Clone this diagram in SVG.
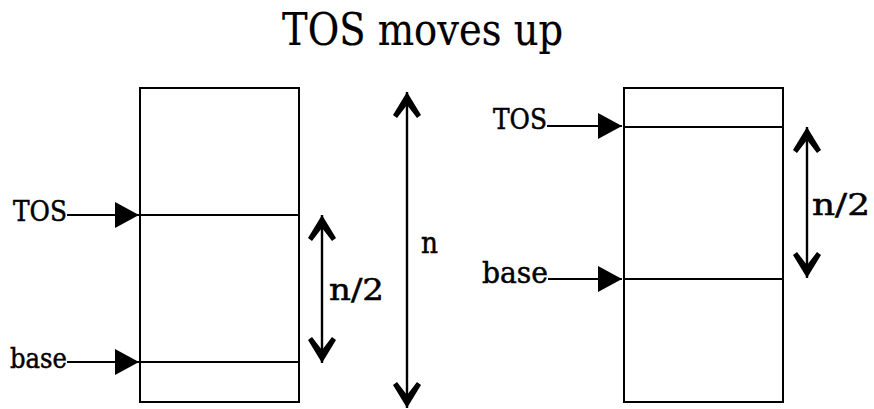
<svg xmlns="http://www.w3.org/2000/svg" width="874" height="409" viewBox="0 0 874 409">
  <style>
    .box { fill: #fff; stroke: #000; stroke-width: 2; }
    .div { stroke: #000; stroke-width: 2; }
    .lbl { font-family: "DejaVu Serif", "Liberation Serif", serif; fill: #000; stroke: #000; stroke-width: 0.5; }
    .ttl { font-family: "DejaVu Serif", "Liberation Serif", serif; fill: #000; stroke: #000; stroke-width: 0.2; }
    .ptr { stroke: #000; stroke-width: 2; fill: none; marker-end: url(#tri); }
    .dim { stroke: #000; stroke-width: 2.4; fill: none; marker-start: url(#barb); marker-end: url(#barb); }
  </style>
  <defs>
    <!-- solid triangular pointer head -->
    <marker id="tri" viewBox="0 0 24 26" refX="24" refY="13" markerWidth="24" markerHeight="26" markerUnits="userSpaceOnUse" orient="auto">
      <path d="M0,0 L24,13 L0,26 Z" fill="#000"/>
    </marker>
    <!-- barbed head for dimension arrows -->
    <marker id="barb" viewBox="0 0 26 28" refX="26" refY="14" markerWidth="26" markerHeight="28" markerUnits="userSpaceOnUse" orient="auto-start-reverse">
      <path d="M26,14 L3,0 L0,4 L13,14 L0,24 L3,28 Z" fill="#000"/>
    </marker>
  </defs>

  <rect width="874" height="409" fill="#fff"/>

  <g id="title">
    <text class="ttl" x="282" y="45" font-size="45" textLength="281" lengthAdjust="spacingAndGlyphs">TOS moves up</text>
  </g>

  <!-- stack before the move -->
  <g id="stack-before">
    <rect class="box" x="140" y="88" width="159" height="314"/>
    <line class="div" x1="140" y1="215" x2="299" y2="215"/>
    <line class="div" x1="140" y1="362" x2="299" y2="362"/>
  </g>

  <!-- stack after the move -->
  <g id="stack-after">
    <rect class="box" x="624" y="88" width="159" height="314"/>
    <line class="div" x1="624" y1="127" x2="783" y2="127"/>
    <line class="div" x1="624" y1="279" x2="783" y2="279"/>
  </g>

  <g id="label-tos-before">
    <text class="lbl" x="13" y="221" font-size="27" textLength="54" lengthAdjust="spacingAndGlyphs">TOS</text>
  </g>
  <g id="label-base-before">
    <text class="lbl" x="10" y="368" font-size="28" textLength="57" lengthAdjust="spacingAndGlyphs">base</text>
  </g>
  <g id="label-tos-after">
    <text class="lbl" x="493" y="129" font-size="27" textLength="54" lengthAdjust="spacingAndGlyphs">TOS</text>
  </g>
  <g id="label-base-after">
    <text class="lbl" x="482" y="283" font-size="29" textLength="66" lengthAdjust="spacingAndGlyphs">base</text>
  </g>
  <g id="label-half-before">
    <text class="lbl" x="329" y="300" font-size="29" textLength="55" lengthAdjust="spacingAndGlyphs">n/2</text>
  </g>
  <g id="label-n">
    <text class="lbl" x="421" y="253" font-size="30" textLength="17" lengthAdjust="spacingAndGlyphs">n</text>
  </g>
  <g id="label-half-after">
    <text class="lbl" x="812" y="215" font-size="29" textLength="58" lengthAdjust="spacingAndGlyphs">n/2</text>
  </g>

  <g id="connectors">
    <!-- pointers into the stacks -->
    <line class="ptr" x1="67" y1="215" x2="139" y2="215"/>
    <line class="ptr" x1="67" y1="362" x2="139" y2="362"/>
    <line class="ptr" x1="547" y1="126" x2="622" y2="126"/>
    <line class="ptr" x1="548" y1="279" x2="622" y2="279"/>
    <!-- extents -->
    <line class="dim" x1="322" y1="215" x2="322" y2="363"/>
    <line class="dim" x1="407" y1="92" x2="407" y2="408"/>
    <line class="dim" x1="807" y1="127" x2="807" y2="278"/>
  </g>
</svg>
